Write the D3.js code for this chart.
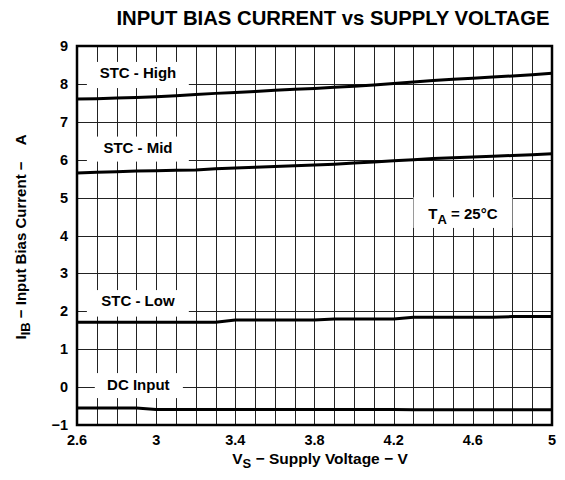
<!DOCTYPE html>
<html><head><meta charset="utf-8">
<script src="https://cdn.jsdelivr.net/npm/d3@7"></script>
<style>
html,body{margin:0;padding:0;background:#fff;}
svg{display:block;font-family:"Liberation Sans",Arial,sans-serif;font-weight:bold;}
</style></head>
<body>
<svg id="chart" width="565" height="480"></svg>
<script>
const supplyVoltage = [2.6,2.7,2.8,2.9,3.0,3.1,3.2,3.3,3.4,3.5,3.6,3.7,3.8,3.9,4.0,4.1,4.2,4.3,4.4,4.5,4.6,4.7,4.8,4.9,5.0];
const stcHigh = [7.60,7.61,7.63,7.64,7.66,7.69,7.72,7.75,7.77,7.80,7.83,7.86,7.88,7.91,7.94,7.97,8.01,8.05,8.09,8.12,8.15,8.18,8.21,8.24,8.28];
const stcMid  = [5.65,5.67,5.68,5.70,5.71,5.72,5.73,5.76,5.78,5.80,5.82,5.84,5.86,5.88,5.91,5.94,5.97,6.00,6.03,6.05,6.07,6.09,6.11,6.13,6.16];
const stcLow  = [1.71,1.71,1.71,1.71,1.71,1.71,1.71,1.71,1.77,1.77,1.77,1.77,1.77,1.80,1.80,1.80,1.80,1.84,1.84,1.84,1.84,1.84,1.86,1.86,1.86];
const dcInput = [-0.55,-0.55,-0.55,-0.55,-0.59,-0.59,-0.59,-0.59,-0.59,-0.59,-0.59,-0.59,-0.59,-0.59,-0.59,-0.59,-0.59,-0.60,-0.60,-0.60,-0.60,-0.60,-0.60,-0.60,-0.60];
const seriesNames = ["STC - High","STC - Mid","STC - Low","DC Input"];
const xTicks = [2.6,3,3.4,3.8,4.2,4.6,5];
const yTicks = [-1,0,1,2,3,4,5,6,7,8,9];
const titleText = "INPUT BIAS CURRENT vs SUPPLY VOLTAGE";

const svg = d3.select("#chart");
const L=77, R=552, T=46, B=425;
const x = d3.scaleLinear().domain([2.6,5]).range([L,R]);
const y = d3.scaleLinear().domain([-1,9]).range([B,T]);

// grid
const gridG = svg.append("g").attr("shape-rendering","crispEdges");
const vGrid = d3.range(27,50).map(d=>d/10);
gridG.selectAll("line.v").data(vGrid).join("line")
  .attr("x1",d=>Math.round(x(d))+0.5).attr("x2",d=>Math.round(x(d))+0.5)
  .attr("y1",T).attr("y2",B).attr("stroke","#222").attr("stroke-width",1);
gridG.selectAll("line.h").data(d3.range(0,9)).join("line")
  .attr("y1",d=>Math.round(y(d))+0.5).attr("y2",d=>Math.round(y(d))+0.5)
  .attr("x1",L).attr("x2",R).attr("stroke","#222").attr("stroke-width",1);

// label boxes (data-space placement)
const labelBoxes = [
  {x0:2.65, x1:3.165, y0:7.89, y1:8.58, tx:2.908, ty:8.16},
  {x0:2.65, x1:3.165, y0:5.95, y1:6.61, tx:2.908, ty:6.18},
  {x0:2.65, x1:3.165, y0:1.86, y1:2.56, tx:2.908, ty:2.13},
  {x0:2.69, x1:3.135, y0:-0.29, y1:0.37, tx:2.91, ty:-0.08},
];
labelBoxes.forEach((b,i)=>{ b.text = seriesNames[i]; });
svg.append("g").selectAll("rect").data(labelBoxes).join("rect")
  .attr("x",d=>x(d.x0)).attr("width",d=>x(d.x1)-x(d.x0))
  .attr("y",d=>y(d.y1)).attr("height",d=>y(d.y0)-y(d.y1)).attr("fill","#fff");
svg.append("g").selectAll("text").data(labelBoxes).join("text")
  .attr("x",d=>x(d.tx)).attr("y",d=>y(d.ty)).attr("text-anchor","middle")
  .attr("font-size",15).attr("fill","#000").text(d=>d.text);

// T_A box
svg.append("rect").attr("x",x(4.30)).attr("width",x(4.80)-x(4.30))
  .attr("y",y(5.01)).attr("height",y(4.2)-y(5.01)).attr("fill","#fff");
const ta = svg.append("text").attr("x",x(4.55)).attr("y",y(4.43)).attr("text-anchor","middle")
  .attr("font-size",15).attr("fill","#000");
ta.append("tspan").text("T");
ta.append("tspan").attr("dy",5).attr("font-size",13).text("A");
ta.append("tspan").attr("dy",-5).text(" = 25°C");

// data lines
const line = d3.line().x((d,i)=>x(supplyVoltage[i])).y(d=>y(d));
[stcHigh,stcMid,stcLow,dcInput].forEach(s=>{
  svg.append("path").datum(s).attr("d",line).attr("fill","none")
    .attr("stroke","#000").attr("stroke-width",3).attr("stroke-linejoin","round");
});

// frame
svg.append("rect").attr("x",L).attr("y",T).attr("width",R-L).attr("height",B-T)
  .attr("fill","none").attr("stroke","#000").attr("stroke-width",2.5);

// axes tick labels
svg.append("g").selectAll("text").data(xTicks).join("text")
  .attr("x",d=>x(d)).attr("y",B+20).attr("text-anchor","middle")
  .attr("font-size",14.5).attr("fill","#000").text(d=>String(d));
svg.append("g").selectAll("text").data(yTicks).join("text")
  .attr("x",L-9).attr("y",d=>y(d)+5).attr("text-anchor","end")
  .attr("font-size",14.5).attr("fill","#000").text(d=>d<0?"\u2212"+Math.abs(d):String(d));

// title
svg.append("text").attr("x",333).attr("y",25).attr("text-anchor","middle")
  .attr("font-size",20.3).attr("fill","#000").text(titleText);

// x label
const xl = svg.append("text").attr("x",320).attr("y",464).attr("text-anchor","middle")
  .attr("font-size",15.5).attr("fill","#000");
xl.append("tspan").text("V");
xl.append("tspan").attr("dy",4).attr("font-size",13).text("S");
xl.append("tspan").attr("dy",-4).text(" \u2212 Supply Voltage \u2212 V");

// y label
const yl = svg.append("text").attr("transform","translate(26,237) rotate(-90)")
  .attr("text-anchor","middle").attr("font-size",15).attr("fill","#000")
  .style("white-space","pre");
yl.append("tspan").text("I");
yl.append("tspan").attr("dy",4).attr("font-size",13).text("IB");
yl.append("tspan").attr("dy",-4).text(" \u2212 Input Bias Current \u2212    A");
</script>
</body></html>
